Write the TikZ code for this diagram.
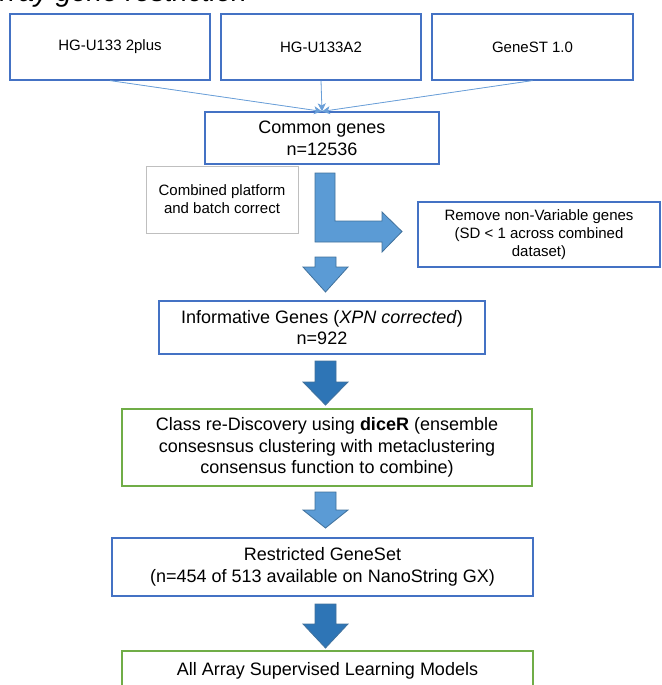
\documentclass[tikz,border=0pt]{standalone}
\usepackage{fontspec}
\setmainfont{Liberation Sans}
\usepackage{tikz}
\usepackage{xcolor}
\usetikzlibrary{arrows.meta,calc}
\definecolor{Box_Blue}{HTML}{4472C4}
\definecolor{Box_Green}{HTML}{70AD47}
\definecolor{Box_Gray}{HTML}{BFBFBF}
\definecolor{Feed_Blue}{HTML}{6A9FD8}
\definecolor{Arrow_Light}{HTML}{5B9BD5}
\definecolor{Arrow_Dark}{HTML}{2E75B6}
\definecolor{Arrow_Edge}{HTML}{41719C}

% block arrow pointing down: style, shaft top, head base, tip
\newcommand{\blockdown}[4]{%
  \draw[#1] (315,#2) -- (336,#2) -- (336,#3) -- (348,#3) -- (325.5,#4)
    -- (303,#3) -- (315,#3) -- cycle;}

\begin{document}
\begin{tikzpicture}[x=1pt, y=-1pt, >=Stealth,
    box/.style={draw=Box_Blue, line width=1.2pt, align=center, inner sep=0pt, text=black},
    smallbox/.style={box, font=\fontsize{15}{18}\selectfont},
    bigbox/.style={box, font=\fontsize{18}{21.7}\selectfont},
    greenbox/.style={bigbox, draw=Box_Green},
    feed/.style={-{Stealth[length=8pt, width=8pt, inset=2pt]}, draw=Feed_Blue, fill=Feed_Blue, line width=0.8pt},
    blockarrow/.style={fill=Arrow_Light, draw=Arrow_Edge, line width=0.8pt, line join=miter},
    blockdark/.style={blockarrow, fill=Arrow_Dark}]
    \useasboundingbox (0,0) rectangle (661,685);
    \clip (0,0) rectangle (661,685);

    % Title (cut off by the page edge)
    \node[font=\fontsize{28}{30}\selectfont\itshape, anchor=base west, inner sep=0pt] (title) at (-19,2) {Array gene restriction};

    % Platforms
    \node[smallbox, minimum width=200, minimum height=66] (u2plus) at (110,47) {HG-U133 2plus};
    \node[smallbox, minimum width=200, minimum height=66] (ua2) at (321,47) {HG-U133A2};
    \node[smallbox, minimum width=201, minimum height=66] (gst) at (532.5,47) {GeneST 1.0};

    % Common genes
    \node[bigbox, minimum width=234, minimum height=52] (common) at (322,138) {Common genes\\n=12536};
    \draw[feed] (u2plus.south) -- (common.north);
    \draw[feed] (ua2.south) -- (common.north);
    \draw[feed] (gst.south) -- (common.north);

    % Batch correction and filtering
    \node[smallbox, draw=Box_Gray, line width=0.8pt, minimum width=152, minimum height=67] (combined) at (222,199.5) {Combined platform\\and batch correct};
    \node[smallbox, minimum width=242, minimum height=65] (remove) at (539,234.5) {Remove non-Variable genes\\(SD < 1 across combined\\dataset)};
    \draw[blockarrow] (315,173) -- (335,173) -- (335,221) -- (382,221) -- (382,212)
        -- (402,231.5) -- (382,252) -- (382,242) -- (315,242) -- cycle;
    \blockdown{blockarrow}{257}{267}{292}

    % Informative genes
    \node[bigbox, minimum width=326, minimum height=53] (info) at (322,327.5) {Informative Genes (\textit{XPN corrected})\\n=922};
    \blockdown{blockdark}{361}{382}{405}

    % Class discovery
    \node[greenbox, minimum width=410, minimum height=77] (classdisc) at (327,447.5) {Class re-Discovery using \textbf{diceR} (ensemble\\consesnsus clustering with metaclustering\\consensus function to combine)};
    \blockdown{blockarrow}{492}{510}{528}

    % Restricted gene set
    \node[bigbox, minimum width=421, minimum height=58] (restricted) at (322.5,567) {Restricted GeneSet\\(n=454 of 513 available on NanoString GX)};
    \blockdown{blockdark}{604}{624}{648}

    % Models
    \node[greenbox, minimum width=411, minimum height=40] (models) at (327.5,671) {All Array Supervised Learning Models};

\end{tikzpicture}
\end{document}
